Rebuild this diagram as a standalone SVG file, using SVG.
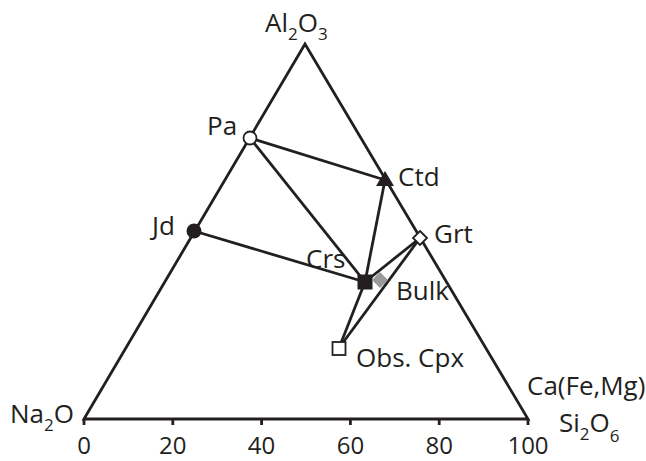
<svg xmlns="http://www.w3.org/2000/svg" width="646" height="461" viewBox="0 0 646 461">
<style>
text{font-family:"Open Sans","DejaVu Sans",sans-serif;font-size:26px;fill:#231f20}
.sub{font-size:17px}
.ax{text-anchor:middle;font-size:24px}
.edge{fill:none;stroke:#231f20;stroke-width:2.8;stroke-linejoin:miter}
.tie{stroke:#231f20;stroke-width:2.8}
.open{fill:#fff;stroke:#231f20;stroke-width:1.8}
.fill{fill:#231f20;stroke:none}
</style>
<rect width="646" height="461" fill="#fff"/>
<g id="frame">
<polygon class="edge" points="84,419 305,44 528,419"/>
<g class="tie">
<line x1="84" y1="419" x2="84" y2="425"/>
<line x1="172.8" y1="419" x2="172.8" y2="425"/>
<line x1="261.6" y1="419" x2="261.6" y2="425"/>
<line x1="350.4" y1="419" x2="350.4" y2="425"/>
<line x1="439.2" y1="419" x2="439.2" y2="425"/>
<line x1="528" y1="419" x2="528" y2="425"/>
</g>
<text class="ax" x="84" y="454">0</text>
<text class="ax" x="172.8" y="454">20</text>
<text class="ax" x="261.6" y="454">40</text>
<text class="ax" x="350.4" y="454">60</text>
<text class="ax" x="439.2" y="454">80</text>
<text class="ax" x="528" y="454">100</text>
<text x="265" y="32">Al<tspan class="sub" dy="8">2</tspan><tspan dy="-8">O</tspan><tspan class="sub" dy="8">3</tspan></text>
<text x="10" y="423">Na<tspan class="sub" dy="8">2</tspan><tspan dy="-8">O</tspan></text>
<text x="527" y="395">Ca(Fe,Mg)</text>
<text x="559" y="432">Si<tspan class="sub" dy="8">2</tspan><tspan dy="-8">O</tspan><tspan class="sub" dy="10">6</tspan></text>
</g>
<g id="connectors" class="tie">
<line x1="250" y1="138" x2="385" y2="180"/>
<line x1="250" y1="138" x2="365" y2="282"/>
<line x1="194" y1="231" x2="365" y2="282"/>
<line x1="365" y1="282" x2="385" y2="180"/>
<line x1="365" y1="282" x2="420" y2="238"/>
<line x1="339" y1="348" x2="365" y2="282"/>
<line x1="339" y1="348" x2="420" y2="238"/>
</g>
<g id="Pa"><circle class="open" cx="250" cy="138" r="6.5"/><text x="207" y="135">Pa</text></g>
<g id="Jd"><circle class="fill" cx="194" cy="231" r="7.5"/><text x="152" y="235">Jd</text></g>
<g id="Ctd"><polygon class="fill" points="385,171 376,186 394,186"/><text x="398" y="186">Ctd</text></g>
<g id="Grt"><polygon class="open" points="420,231 427,238 420,245 413,238"/><text x="434" y="243">Grt</text></g>
<g id="Crs"><rect class="fill" x="357.5" y="274.5" width="15" height="15"/><text x="306" y="268">Crs</text></g>
<g id="Bulk"><polygon points="380,272 388,280 380,288 372,280" fill="#999" stroke="none"/><text x="396" y="300">Bulk</text></g>
<g id="ObsCpx"><rect class="open" x="332.5" y="342" width="13" height="13"/><text x="356" y="367">Obs. Cpx</text></g>
</svg>
